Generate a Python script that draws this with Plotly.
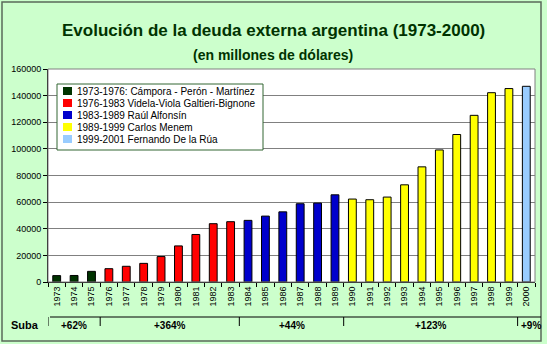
import plotly.graph_objects as go

years = [str(y) for y in range(1973, 2001)]
debt = [4800, 4900, 8000, 10000, 11800, 14000, 19100, 27100, 35700, 43800, 45300,
        46300, 49500, 52700, 58800, 59300, 65500, 62300, 61800, 63800, 73000,
        86500, 99200, 110800, 125200, 142200, 145300, 147000]

periods = ["1973-1976: Cámpora - Perón - Martínez",
           "1976-1983 Videla-Viola Galtieri-Bignone",
           "1983-1989 Raúl Alfonsín",
           "1989-1999 Carlos Menem",
           "1999-2001 Fernando De la Rúa"]
period_ranges = [(0, 3), (3, 11), (11, 17), (17, 27), (27, 28)]
colors = ["#003300", "#FF0000", "#0000CC", "#FFFF00", "#99CCFF"]

suba_labels = ["+62%", "+364%", "+44%", "+123%", "+9%"]

fig = go.Figure()
for name, (a, b), c in zip(periods, period_ranges, colors):
    fig.add_trace(go.Bar(x=years[a:b], y=debt[a:b], name=name, marker_color=c,
                         marker_line=dict(color="#000000", width=1), width=0.45,
                         showlegend=False))

L, R, T, B = 48, 12, 69, 62
W, H = 547, 344
pw, ph = W - L - R, H - T - B

def px_x(x):
    return (x - L) / pw

def px_y(y):
    return (H - B - y) / ph

shapes = []
# outer frame
shapes.append(dict(type="rect", xref="paper", yref="paper", x0=px_x(2), x1=px_x(541),
                   y0=px_y(341), y1=px_y(2), line=dict(color="#5a6a5a", width=1.5), layer="below"))
# suba bracket line
shapes.append(dict(type="line", xref="paper", yref="paper", x0=px_x(50), x1=px_x(541),
                   y0=px_y(317), y1=px_y(317), line=dict(color="#000000", width=1)))
bounds = [-0.5] + [r[1] - 0.5 for r in period_ranges[:-1]]
for bx in bounds:
    shapes.append(dict(type="line", xref="x", yref="paper", x0=bx, x1=bx,
                       y0=px_y(317), y1=px_y(326), line=dict(color="#000000", width=1)))

# manual legend box
shapes.append(dict(type="rect", xref="paper", yref="paper", x0=px_x(57), x1=px_x(263),
                   y0=px_y(150), y1=px_y(84), fillcolor="#FFFFFF",
                   line=dict(color="#336633", width=1)))

annotations = [
    dict(text="<b>Evolución de la deuda externa argentina (1973-2000)</b>", xref="paper", yref="paper",
         x=px_x(273), y=px_y(19), showarrow=False, font=dict(size=17, color="#003300", family="Liberation Sans, Arial")),
    dict(text="<b>(en millones de dólares)</b>", xref="paper", yref="paper",
         x=px_x(273), y=px_y(45), showarrow=False, font=dict(size=14, color="#003300", family="Liberation Sans, Arial")),
    dict(text="<b>Suba</b>", xref="paper", yref="paper", x=px_x(9), y=px_y(333), xanchor="left",
         showarrow=False, font=dict(size=11, color="#000000")),
]
for lab, (a, b) in zip(suba_labels, period_ranges):
    annotations.append(dict(text="<b>" + lab + "</b>", xref="x", yref="paper", x=(a + b - 1) / 2,
                            y=px_y(333), showarrow=False, font=dict(size=10, color="#000000")))
annotations[-1]["x"] = 27.25

for i, (name, c) in enumerate(zip(periods, colors)):
    yc = 91 + 12 * i
    shapes.append(dict(type="rect", xref="paper", yref="paper", x0=px_x(63), x1=px_x(72),
                       y0=px_y(yc + 4), y1=px_y(yc - 4), fillcolor=c,
                       line=dict(color=c, width=0)))
    annotations.append(dict(text=name, xref="paper", yref="paper", x=px_x(75), y=px_y(yc),
                            xanchor="left", yanchor="middle", showarrow=False,
                            font=dict(size=10, color="#000000")))

fig.update_layout(
    width=W, height=H,
    margin=dict(l=L, r=R, t=T, b=B),
    paper_bgcolor="#CCFFCC",
    plot_bgcolor="#FFFFFF",
    barmode="overlay",
    font=dict(family="Liberation Sans, Arial", size=9, color="#000000"),
    showlegend=False,
    shapes=shapes,
    annotations=annotations,
    xaxis=dict(type="category", categoryorder="array", categoryarray=years,
               tickangle=-90, ticks="outside", ticklen=4, tickcolor="#000000",
               tickson="boundaries",
               showline=True, linecolor="#000000", mirror=False,
               tickfont=dict(size=9), range=[-0.5, 27.5], showgrid=False),
    yaxis=dict(range=[0, 160000], dtick=20000, ticks="outside", ticklen=4, tickcolor="#000000",
               showline=True, linecolor="#000000", gridcolor="#808080", gridwidth=1,
               tickfont=dict(size=9), zeroline=False, tickformat="d"),
)
fig.add_shape(type="rect", xref="paper", yref="paper", x0=0, x1=1, y0=0, y1=1,
              line=dict(color="#808080", width=1))

fig.write_html("out.html")
